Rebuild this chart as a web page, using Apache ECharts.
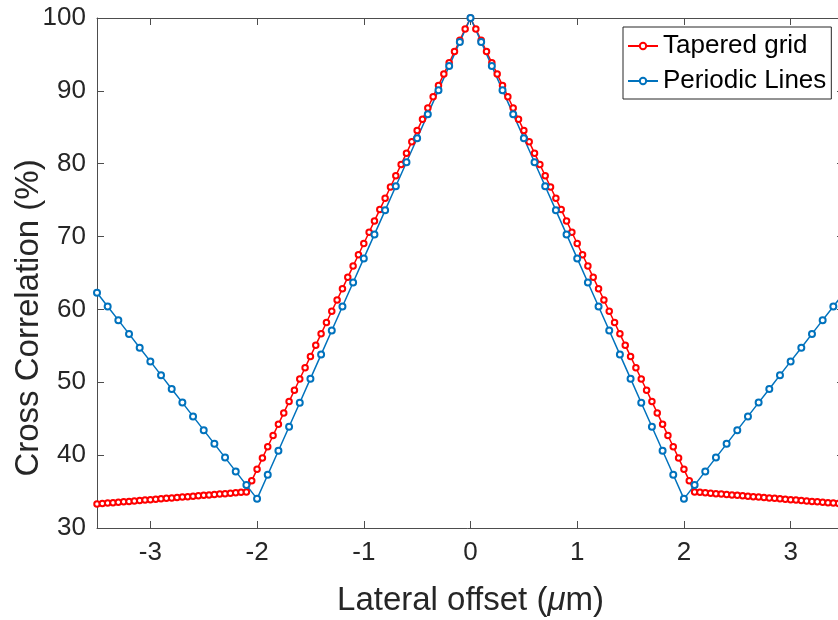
<!DOCTYPE html>
<html>
<head>
<meta charset="utf-8">
<script src="https://cdn.jsdelivr.net/npm/echarts@6/dist/echarts.min.js"></script>
<style>
  html, body { margin: 0; padding: 0; background: #fff; }
  #chart { width: 838px; height: 620px; }
</style>
</head>
<body>
<div id="chart"></div>
<script>
const FONT = 'Arial, "Liberation Sans", sans-serif';

const xTicks = [-3, -2, -1, 0, 1, 2, 3];

// Tapered grid, sampled every 0.05 um
const taperedX = [
  -3.5, -3.45, -3.4, -3.35, -3.3, -3.25, -3.2, -3.15, -3.1, -3.05,
  -3, -2.95, -2.9, -2.85, -2.8, -2.75, -2.7, -2.65, -2.6, -2.55,
  -2.5, -2.45, -2.4, -2.35, -2.3, -2.25, -2.2, -2.15, -2.1, -2.05,
  -2, -1.95, -1.9, -1.85, -1.8, -1.75, -1.7, -1.65, -1.6, -1.55,
  -1.5, -1.45, -1.4, -1.35, -1.3, -1.25, -1.2, -1.15, -1.1, -1.05,
  -1, -0.95, -0.9, -0.85, -0.8, -0.75, -0.7, -0.65, -0.6, -0.55,
  -0.5, -0.45, -0.4, -0.35, -0.3, -0.25, -0.2, -0.15, -0.1, -0.05,
  0, 0.05, 0.1, 0.15, 0.2, 0.25, 0.3, 0.35, 0.4, 0.45,
  0.5, 0.55, 0.6, 0.65, 0.7, 0.75, 0.8, 0.85, 0.9, 0.95,
  1, 1.05, 1.1, 1.15, 1.2, 1.25, 1.3, 1.35, 1.4, 1.45,
  1.5, 1.55, 1.6, 1.65, 1.7, 1.75, 1.8, 1.85, 1.9, 1.95,
  2, 2.05, 2.1, 2.15, 2.2, 2.25, 2.3, 2.35, 2.4, 2.45,
  2.5, 2.55, 2.6, 2.65, 2.7, 2.75, 2.8, 2.85, 2.9, 2.95,
  3, 3.05, 3.1, 3.15, 3.2, 3.25, 3.3, 3.35, 3.4, 3.45, 3.5
];
const taperedY = [
  33.30, 33.36, 33.42, 33.48, 33.54, 33.59, 33.65, 33.71, 33.77, 33.83,
  33.89, 33.95, 34.01, 34.07, 34.12, 34.18, 34.24, 34.30, 34.36, 34.42,
  34.48, 34.54, 34.60, 34.65, 34.71, 34.77, 34.83, 34.89, 34.95,
  36.5, 38.05, 39.6, 41.15, 42.7, 44.25, 45.8, 47.35, 48.9, 50.45,
  52.0, 53.55, 55.1, 56.65, 58.2, 59.75, 61.3, 62.85, 64.4, 65.95,
  67.5, 69.05, 70.6, 72.15, 73.7, 75.25, 76.8, 78.35, 79.9, 81.45,
  83.0, 84.55, 86.1, 87.65, 89.2, 90.75, 92.3, 93.85, 95.4, 96.95,
  98.5, 100,
  98.5, 96.95, 95.4, 93.85, 92.3, 90.75, 89.2, 87.65, 86.1, 84.55,
  83.0, 81.45, 79.9, 78.35, 76.8, 75.25, 73.7, 72.15, 70.6, 69.05,
  67.5, 65.95, 64.4, 62.85, 61.3, 59.75, 58.2, 56.65, 55.1, 53.55,
  52.0, 50.45, 48.9, 47.35, 45.8, 44.25, 42.7, 41.15, 39.6, 38.05,
  36.5,
  34.95, 34.89, 34.83, 34.77, 34.71, 34.65, 34.60, 34.54, 34.48, 34.42,
  34.36, 34.30, 34.24, 34.18, 34.12, 34.07, 34.01, 33.95, 33.89, 33.83,
  33.77, 33.71, 33.65, 33.59, 33.54, 33.48, 33.42, 33.36, 33.30
];

// Periodic lines, sampled every 0.1 um
const periodicX = [
  -3.5, -3.4, -3.3, -3.2, -3.1, -3, -2.9, -2.8, -2.7, -2.6,
  -2.5, -2.4, -2.3, -2.2, -2.1, -2, -1.9, -1.8, -1.7, -1.6,
  -1.5, -1.4, -1.3, -1.2, -1.1, -1, -0.9, -0.8, -0.7, -0.6,
  -0.5, -0.4, -0.3, -0.2, -0.1, 0, 0.1, 0.2, 0.3, 0.4,
  0.5, 0.6, 0.7, 0.8, 0.9, 1, 1.1, 1.2, 1.3, 1.4,
  1.5, 1.6, 1.7, 1.8, 1.9, 2, 2.1, 2.2, 2.3, 2.4,
  2.5, 2.6, 2.7, 2.8, 2.9, 3, 3.1, 3.2, 3.3, 3.4, 3.5
];
const periodicY = [
  62.3, 60.41, 58.53, 56.64, 54.75, 52.87, 50.98, 49.09, 47.21, 45.32,
  43.43, 41.55, 39.66, 37.77, 35.89, 34.0,
  37.3, 40.6, 43.9, 47.2, 50.5, 53.8, 57.1, 60.4, 63.7, 67.0,
  70.3, 73.6, 76.9, 80.2, 83.5, 86.8, 90.1, 93.4, 96.7, 100,
  96.7, 93.4, 90.1, 86.8, 83.5, 80.2, 76.9, 73.6, 70.3, 67.0,
  63.7, 60.4, 57.1, 53.8, 50.5, 47.2, 43.9, 40.6, 37.3, 34.0,
  35.89, 37.77, 39.66, 41.55, 43.43, 45.32, 47.21, 49.09, 50.98, 52.87,
  54.75, 56.64, 58.53, 60.41, 62.3
];

const chart = echarts.init(document.getElementById('chart'), null, { renderer: 'canvas' });

const axisLine = { show: true, onZero: false, lineStyle: { color: '#4d4d4d', width: 1 } };
const axisTick = { show: true, inside: true, length: 7, lineStyle: { color: '#4d4d4d', width: 1 } };

const option = {
  animation: false,
  backgroundColor: '#fff',
  grid: { left: 97, right: -6, top: 18, bottom: 92, containLabel: false, outerBoundsMode: 'none' },
  legend: {
    left: 623, top: 27,
    orient: 'vertical',
    backgroundColor: '#fff',
    borderColor: '#262626', borderWidth: 1,
    padding: [4, 5, 3, 4],
    itemWidth: 30, itemHeight: 8, itemGap: 5,
    textStyle: { fontFamily: FONT, fontSize: 26, color: '#000', lineHeight: 30 },
    data: ['Tapered grid', 'Periodic Lines']
  },
  xAxis: [{
    type: 'value', position: 'bottom', min: -3.5, max: 3.5,
    axisLine: axisLine,
    axisTick: Object.assign({ customValues: xTicks }, axisTick),
    axisLabel: { customValues: xTicks, margin: 12, fontFamily: FONT, fontSize: 26, color: '#262626' },
    splitLine: { show: false },
    name: '{t|Lateral offset (}{m|μ}{t|m)}',
    nameLocation: 'middle', nameGap: 56,
    nameTextStyle: {
      rich: {
        t: { fontFamily: FONT, fontSize: 33, color: '#262626' },
        m: { fontFamily: FONT, fontSize: 33, color: '#262626', fontStyle: 'italic' }
      }
    }
  }, {
    type: 'value', position: 'top', min: -3.5, max: 3.5,
    axisLine: axisLine,
    axisTick: Object.assign({ customValues: xTicks }, axisTick),
    axisLabel: { show: false },
    splitLine: { show: false }
  }],
  yAxis: [{
    type: 'value', position: 'left', min: 30, max: 100, interval: 10,
    axisLine: axisLine, axisTick: axisTick,
    axisLabel: { margin: 11, fontFamily: FONT, fontSize: 26, color: '#262626' },
    splitLine: { show: false },
    name: 'Cross Correlation (%)',
    nameLocation: 'middle', nameGap: 52, nameMoveOverlap: false,
    nameTextStyle: { fontFamily: FONT, fontSize: 33, color: '#262626', padding: [0, 90, 0, 0] }
  }, {
    type: 'value', position: 'right', min: 30, max: 100, interval: 10,
    axisLine: axisLine, axisTick: axisTick,
    axisLabel: { show: false },
    splitLine: { show: false }
  }],
  series: [{
    name: 'Tapered grid', type: 'line',
    data: taperedX.map((x, i) => [x, taperedY[i]]),
    clip: false,
    symbol: 'emptyCircle', symbolSize: 5.5,
    color: '#ff0000',
    lineStyle: { color: '#ff0000', width: 1.5 },
    itemStyle: { color: '#ff0000', borderColor: '#ff0000', borderWidth: 1.3 }
  }, {
    name: 'Periodic Lines', type: 'line',
    data: periodicX.map((x, i) => [x, periodicY[i]]),
    clip: false,
    symbol: 'emptyCircle', symbolSize: 6,
    color: '#0072BD',
    lineStyle: { color: '#0072BD', width: 1.5 },
    itemStyle: { color: '#0072BD', borderColor: '#0072BD', borderWidth: 1.2 }
  }]
};

chart.setOption(option);
</script>
</body>
</html>
